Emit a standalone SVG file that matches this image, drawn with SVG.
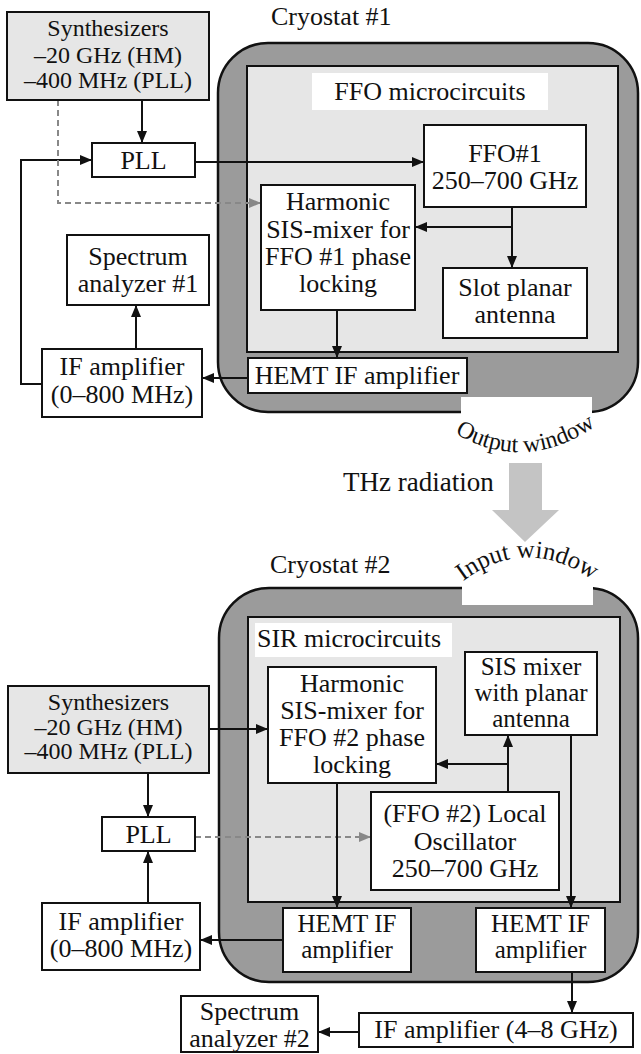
<svg xmlns="http://www.w3.org/2000/svg" width="641" height="1054" viewBox="0 0 641 1054" font-family="'Liberation Serif', 'Times New Roman', serif">
<defs>
<style>
text{font-family:'Liberation Serif','Times New Roman',serif;font-size:26px;fill:#111}
.c{text-anchor:middle}
.s{font-size:24px}
.m{font-size:25px}
.box{fill:#fff;stroke:#111;stroke-width:2}
.gbox{fill:#e6e6e6;stroke:#111;stroke-width:2}
.cryo{fill:#9b9b9b;stroke:#111;stroke-width:2.5}
.inner{fill:#e6e6e6;stroke:#111;stroke-width:2}
.win{fill:#fff}
.ln{fill:none;stroke:#111;stroke-width:2}
.dash{fill:none;stroke:#888;stroke-width:2;stroke-dasharray:6 4}
</style>
<marker id="ah" viewBox="0 0 12 10" refX="12" refY="5" markerWidth="12" markerHeight="10" markerUnits="userSpaceOnUse" orient="auto"><path d="M0,0 L12,5 L0,10 z" fill="#111"/></marker>
<marker id="ahg" viewBox="0 0 12 10" refX="12" refY="5" markerWidth="12" markerHeight="10" markerUnits="userSpaceOnUse" orient="auto"><path d="M0,0 L12,5 L0,10 z" fill="#888"/></marker>
<path id="outArc" d="M446,428 Q525,480 604,420"/>
<path id="inArc" d="M450,592 Q525,524 606,590"/>
</defs>

<g id="cryostat1">
<text x="271" y="25">Cryostat #1</text>
<rect class="cryo" x="218" y="43" width="420" height="369" rx="50" ry="50"/>
<rect class="inner" x="247" y="66" width="371" height="286"/>
<rect class="win" x="312" y="73" width="236" height="37"/>
<text class="c" x="430" y="100">FFO microcircuits</text>
<rect class="win" x="461" y="397" width="131" height="17"/>
<text style="font-size:24px"><textPath href="#outArc" startOffset="50%" text-anchor="middle">Output window</textPath></text>
</g>

<g id="thz">
<polygon points="509,463 542,463 542,510 559,510 525,542 492,510 509,510" fill="#c4c4c4"/>
<text x="343" y="491" style="font-size:27px">THz radiation</text>
</g>

<g id="cryostat2">
<text x="270" y="573">Cryostat #2</text>
<rect class="cryo" x="219" y="588" width="419" height="394" rx="50" ry="50"/>
<rect class="win" x="462" y="586" width="131" height="19"/>
<rect class="inner" x="248" y="617" width="372" height="285"/>
<rect class="win" x="255" y="623" width="197" height="34"/>
<text x="257" y="647">SIR microcircuits</text>
<text style="font-size:25px"><textPath href="#inArc" startOffset="50%" text-anchor="middle">Input window</textPath></text>
</g>

<g id="connectors">
<path class="ln" d="M142,100 V143" marker-end="url(#ah)"/>
<path class="ln" d="M195,162 H424" marker-end="url(#ah)"/>
<path class="ln" d="M42,384 H21 V160 H92" marker-end="url(#ah)"/>
<path class="dash" d="M58,100 V203 H261" marker-end="url(#ahg)"/>
<path class="ln" d="M512,207 V268" marker-end="url(#ah)"/>
<path class="ln" d="M512,227 H415" marker-end="url(#ah)"/>
<path class="ln" d="M337,310 V358" marker-end="url(#ah)"/>
<path class="ln" d="M248,378 H202" marker-end="url(#ah)"/>
<path class="ln" d="M136,349 V305" marker-end="url(#ah)"/>
<path class="ln" d="M209,729 H268" marker-end="url(#ah)"/>
<path class="ln" d="M148,773 V817" marker-end="url(#ah)"/>
<path class="ln" d="M148,903 V851" marker-end="url(#ah)"/>
<path class="dash" d="M195,837 H371" marker-end="url(#ahg)"/>
<path class="ln" d="M508,792 V735" marker-end="url(#ah)"/>
<path class="ln" d="M508,764 H436" marker-end="url(#ah)"/>
<path class="ln" d="M337,783 V908" marker-end="url(#ah)"/>
<path class="ln" d="M571,735 V908" marker-end="url(#ah)"/>
<path class="ln" d="M283,940 H200" marker-end="url(#ah)"/>
<path class="ln" d="M572,972 V1013" marker-end="url(#ah)"/>
<path class="ln" d="M359,1032 H318" marker-end="url(#ah)"/>
</g>

<g id="synth1">
<rect class="gbox" x="7" y="12" width="202" height="88"/>
<text class="c s" x="108" y="36">Synthesizers</text>
<text class="c s" x="108" y="63">–20 GHz (HM)</text>
<text class="c s" x="108" y="88">–400 MHz (PLL)</text>
</g>
<g id="pll1">
<rect class="box" x="92" y="143" width="103" height="34"/>
<text class="c" x="143.5" y="169">PLL</text>
</g>
<g id="ffo1">
<rect class="box" x="424" y="125" width="162" height="82"/>
<text class="c" x="505" y="162">FFO#1</text>
<text class="c" x="505" y="189">250–700 GHz</text>
</g>
<g id="harmonic1">
<rect class="box" x="261" y="185" width="154" height="125"/>
<text class="c" x="338" y="210">Harmonic</text>
<text class="c" x="338" y="237.5">SIS-mixer for</text>
<text class="c" x="338" y="265">FFO #1 phase</text>
<text class="c" x="338" y="292">locking</text>
</g>
<g id="slot">
<rect class="box" x="443" y="268" width="144" height="70"/>
<text class="c" x="515" y="296">Slot planar</text>
<text class="c" x="515" y="323">antenna</text>
</g>
<g id="spec1">
<rect class="box" x="67" y="235" width="142" height="70"/>
<text class="c" x="138" y="265">Spectrum</text>
<text class="c" x="138" y="292">analyzer #1</text>
</g>
<g id="ifamp1">
<rect class="box" x="42" y="349" width="160" height="68"/>
<text class="c" x="122" y="375">IF amplifier</text>
<text class="c" x="122" y="403">(0–800 MHz)</text>
</g>
<g id="hemt1">
<rect class="box" x="248" y="358" width="219" height="35"/>
<text class="c" x="357" y="384">HEMT IF amplifier</text>
</g>

<g id="synth2">
<rect class="gbox" x="8" y="686" width="201" height="87"/>
<text class="c s" x="108.5" y="710">Synthesizers</text>
<text class="c s" x="108.5" y="735">–20 GHz (HM)</text>
<text class="c s" x="108.5" y="759">–400 MHz (PLL)</text>
</g>
<g id="pll2">
<rect class="box" x="102" y="817" width="93" height="34"/>
<text class="c" x="148.5" y="843">PLL</text>
</g>
<g id="ifamp2">
<rect class="box" x="42" y="903" width="158" height="67"/>
<text class="c" x="121" y="930">IF amplifier</text>
<text class="c" x="121" y="957">(0–800 MHz)</text>
</g>
<g id="harmonic2">
<rect class="box" x="268" y="667" width="168" height="116"/>
<text class="c" x="352" y="692">Harmonic</text>
<text class="c" x="352" y="718.5">SIS-mixer for</text>
<text class="c" x="352" y="746">FFO #2 phase</text>
<text class="c" x="352" y="773">locking</text>
</g>
<g id="sismixer">
<rect class="box" x="465" y="652" width="132" height="83"/>
<text class="c m" x="531" y="675">SIS mixer</text>
<text class="c m" x="531" y="701">with planar</text>
<text class="c m" x="531" y="727">antenna</text>
</g>
<g id="lo">
<rect class="box" x="371" y="792" width="188" height="98"/>
<text class="c" x="465" y="822">(FFO #2) Local</text>
<text class="c" x="465" y="850">Oscillator</text>
<text class="c" x="465" y="877">250–700 GHz</text>
</g>
<g id="hemt2a">
<rect class="box" x="283" y="908" width="128" height="64"/>
<text class="c m" x="347" y="932">HEMT IF</text>
<text class="c m" x="347" y="958">amplifier</text>
</g>
<g id="hemt2b">
<rect class="box" x="476" y="908" width="129" height="64"/>
<text class="c m" x="540.5" y="932">HEMT IF</text>
<text class="c m" x="540.5" y="958">amplifier</text>
</g>
<g id="ifamp48">
<rect class="box" x="359" y="1013" width="274" height="34"/>
<text class="c" x="496" y="1038">IF amplifier (4–8 GHz)</text>
</g>
<g id="spec2">
<rect class="box" x="181" y="996" width="137" height="56"/>
<text class="c" x="249.5" y="1020">Spectrum</text>
<text class="c" x="249.5" y="1047">analyzer #2</text>
</g>
</svg>
